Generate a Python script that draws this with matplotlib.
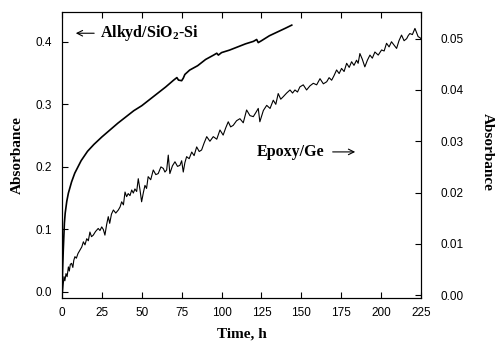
import matplotlib
matplotlib.use("Agg")
import matplotlib.pyplot as plt

# Alkyd/SiO2-Si, left axis (time h, absorbance)
alkyd = [
    (0, 0.000), (0.3, 0.030), (0.8, 0.067), (1.5, 0.110), (2, 0.126),
    (3, 0.145), (4, 0.158), (6, 0.176), (8, 0.190), (12, 0.210),
    (16, 0.225), (20, 0.236), (25, 0.248), (30, 0.259), (35, 0.270),
    (40, 0.280), (45, 0.290), (50, 0.298), (55, 0.308), (60, 0.318),
    (65, 0.328), (70, 0.339), (72, 0.343), (73, 0.339), (75, 0.338),
    (76, 0.342), (77, 0.348), (80, 0.355), (85, 0.362), (90, 0.372),
    (95, 0.379), (97, 0.382), (98, 0.379), (100, 0.383), (105, 0.387),
    (110, 0.392), (115, 0.397), (120, 0.401), (122, 0.404), (123, 0.399),
    (125, 0.402), (130, 0.410), (135, 0.416), (140, 0.422), (144, 0.427),
]

# Epoxy/Ge, right axis (time h, absorbance)
epoxy = [
    (0, 0.0000), (0.4, 0.0006), (0.8, 0.0022), (1.25, 0.0036), (1.8, 0.0028),
    (2.5, 0.0042), (3.2, 0.0036), (4, 0.0055), (4.6, 0.0047), (5.2, 0.0060),
    (6, 0.0062), (6.8, 0.0054), (7.4, 0.0068), (8.1, 0.0075), (9, 0.0072),
    (10, 0.0081), (11.3, 0.0088), (12.4, 0.0094), (13.4, 0.0104), (14.4, 0.0098),
    (15.5, 0.0110), (16.5, 0.0106), (17.5, 0.0123), (18.5, 0.0114), (19.6, 0.0117),
    (21, 0.0124), (22.7, 0.0130), (23.8, 0.0126), (24.9, 0.0133), (25.9, 0.0128),
    (26.9, 0.0117), (28, 0.0138), (29, 0.0153), (29.9, 0.0140), (31, 0.0158),
    (32.2, 0.0166), (33.7, 0.0160), (35.3, 0.0166), (36.4, 0.0172), (37.4, 0.0182),
    (38.5, 0.0176), (39.5, 0.0201), (40.5, 0.0192), (41.5, 0.0198), (42.6, 0.0194),
    (43.7, 0.0205), (44.7, 0.0199), (45.7, 0.0207), (46.8, 0.0202), (47.8, 0.0227),
    (48.9, 0.0205), (49.9, 0.0182), (51, 0.0200), (52, 0.0214), (53, 0.0208),
    (54, 0.0231), (55.6, 0.0225), (57.2, 0.0244), (58.8, 0.0235), (60.3, 0.0237),
    (62, 0.0250), (63.5, 0.0247), (64.5, 0.0240), (65.6, 0.0244), (66.6, 0.0273),
    (67.6, 0.0237), (69.2, 0.0252), (70.8, 0.0260), (72.4, 0.0251), (73.9, 0.0253),
    (75, 0.0262), (76, 0.0240), (77, 0.0258), (78.1, 0.0270), (79.7, 0.0266),
    (81.3, 0.0279), (82.8, 0.0272), (84.4, 0.0289), (86, 0.0280), (87.5, 0.0283),
    (89, 0.0296), (90.7, 0.0309), (92.7, 0.0300), (94.8, 0.0309), (97, 0.0304),
    (99, 0.0322), (101, 0.0312), (102.6, 0.0326), (104.2, 0.0338), (105.7, 0.0328),
    (107.3, 0.0331), (109.4, 0.0340), (111.5, 0.0344), (113.6, 0.0336), (115.7, 0.0361),
    (117.8, 0.0350), (119.9, 0.0348), (121.5, 0.0356), (123, 0.0364), (124, 0.0338),
    (126.2, 0.0360), (128.3, 0.0370), (130.4, 0.0364), (132.4, 0.0380), (134, 0.0372),
    (135.5, 0.0393), (137.1, 0.0382), (138.7, 0.0387), (140.8, 0.0394), (142.9, 0.0400),
    (144.5, 0.0394), (146, 0.0400), (147.6, 0.0396), (149.1, 0.0406), (151.2, 0.0410),
    (153.3, 0.0400), (155.4, 0.0408), (157.5, 0.0413), (159.6, 0.0410), (161.7, 0.0422),
    (163.8, 0.0412), (165.9, 0.0416), (167.4, 0.0424), (169, 0.0419), (170.5, 0.0428),
    (172.1, 0.0439), (173.7, 0.0432), (175.2, 0.0442), (176.8, 0.0436), (178.4, 0.0452),
    (180, 0.0444), (181.5, 0.0455), (183, 0.0448), (184.6, 0.0458), (185.6, 0.0452),
    (186.7, 0.0471), (188.2, 0.0460), (189.8, 0.0445), (191.4, 0.0458), (193, 0.0468),
    (194.5, 0.0462), (196.1, 0.0474), (198.2, 0.0468), (200.3, 0.0478), (201.9, 0.0476),
    (203.4, 0.0491), (205, 0.0484), (206.5, 0.0494), (208, 0.0488), (209.7, 0.0481),
    (211.2, 0.0496), (212.8, 0.0507), (214.4, 0.0496), (216, 0.0500), (217, 0.0506),
    (218, 0.0510), (219.6, 0.0508), (221.2, 0.0520), (222.2, 0.0512), (223.2, 0.0504),
    (224.3, 0.0502), (225, 0.0500),
]

x_ticks = [0, 25, 50, 75, 100, 125, 150, 175, 200, 225]
left_ticks = [0.0, 0.1, 0.2, 0.3, 0.4]
right_ticks = [0.00, 0.01, 0.02, 0.03, 0.04, 0.05]

plt.rcParams['mathtext.fontset'] = 'custom'
plt.rcParams['mathtext.rm'] = 'Liberation Serif:bold'
plt.rcParams['mathtext.bf'] = 'Liberation Serif:bold'

tick_font = {'family': 'Liberation Sans', 'size': 8.5}
label_font = {'family': 'Liberation Serif', 'weight': 'bold', 'size': 11}
note_font = {'family': 'Liberation Serif', 'weight': 'bold', 'size': 11.5}

fig = plt.figure(figsize=(4.97, 3.45), dpi=100)
ax = fig.add_axes([62 / 497, 1 - 297.7 / 345, (421 - 62) / 497, (297.7 - 12) / 345])
ax2 = ax.twinx()

ta, aa = zip(*alkyd)
te, ae = zip(*epoxy)
ax.plot(ta, aa, color='black', lw=1.2)
ax2.plot(te, ae, color='black', lw=0.8)

ax.set_xlim(0, 225)
ax.set_ylim(-0.0094, 0.448)
ax2.set_ylim(-0.0005, 0.0552)

ax.set_xticks(x_ticks)
ax.set_xticklabels([str(v) for v in x_ticks], fontdict=tick_font)
ax.set_yticks(left_ticks)
ax.set_yticklabels(['%.1f' % v for v in left_ticks], fontdict=tick_font)
ax2.set_yticks(right_ticks)
ax2.set_yticklabels(['%.2f' % v for v in right_ticks], fontdict=tick_font)

ax.tick_params(axis='x', direction='in', length=4, width=0.8, top=True, pad=7)
ax.tick_params(axis='y', direction='in', length=4, width=0.8, pad=7)
ax2.tick_params(axis='y', direction='in', length=4, width=0.8, pad=14)
for a in (ax, ax2):
    for s in a.spines.values():
        s.set_linewidth(0.8)

fig.text(17 / 497, 1 - 155 / 345, 'Absorbance', rotation=90, ha='center', va='center', **label_font)
fig.text(487 / 497, 1 - 152 / 345, 'Absorbance', rotation=270, ha='center', va='center', **label_font)
ax.set_xlabel('Time, h', labelpad=6, **label_font)

ax.annotate('', xy=(6.9, 0.414), xytext=(21.9, 0.414),
            arrowprops=dict(arrowstyle='->', lw=0.8, color='black'))
ax.text(23.8, 0.414, r'Alkyd/SiO$_\mathbf{2}$-Si', ha='left', va='center', **note_font)

ax.text(122.2, 0.224, 'Epoxy/Ge', ha='left', va='center', **note_font)
ax.annotate('', xy=(185.5, 0.224), xytext=(167.9, 0.224),
            arrowprops=dict(arrowstyle='->', lw=0.8, color='black'))

fig.savefig('out.png', dpi=100)
